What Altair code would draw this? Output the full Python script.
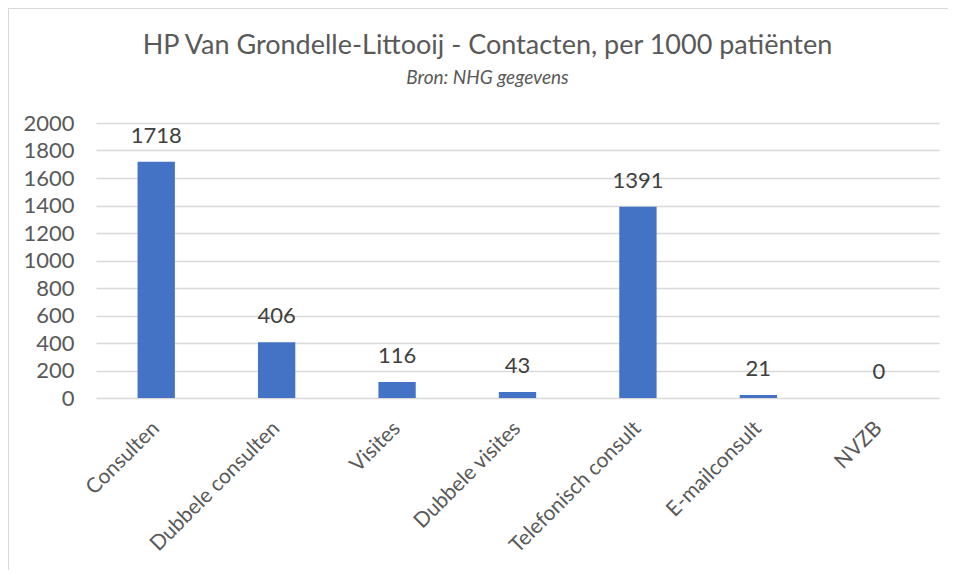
import altair as alt
import pandas as pd

categories = ["Consulten", "Dubbele consulten", "Visites", "Dubbele visites",
              "Telefonisch consult", "E-mailconsult", "NVZB"]
values = [1718, 406, 116, 43, 1391, 21, 0]
y_ticks = [0, 200, 400, 600, 800, 1000, 1200, 1400, 1600, 1800, 2000]

title_text = "HP Van Grondelle-Littooij - Contacten, per 1000 patiënten"
subtitle_text = "Bron: NHG gegevens"

df = pd.DataFrame({"cat": categories, "val": values})
FONT = "Lato"

x_enc = alt.X("cat:N", sort=categories, title=None,
              scale=alt.Scale(paddingInner=0.69, paddingOuter=0.345),
              axis=alt.Axis(labelAngle=-45, labelAlign="right", labelBaseline="middle",
                            labelFontSize=21, labelColor="#595959", labelFont=FONT,
                            ticks=False, domain=False, labelPadding=27, grid=False,
                            labelOverlap=False))
y_enc = alt.Y("val:Q", title=None,
              scale=alt.Scale(domain=[0, 2000], nice=False),
              axis=alt.Axis(values=y_ticks, format="d", labelFontSize=22, labelColor="#595959",
                            labelFont=FONT, ticks=False, domain=False, labelPadding=22,
                            labelOverlap=False, gridColor="#d9d9d9", gridWidth=1.3))

base = alt.Chart(df).encode(x=x_enc, y=y_enc)
bars = base.mark_bar(color="#4472c4")
labels = base.mark_text(fontSize=22, color="#404040", font=FONT,
                        baseline="alphabetic", dy=-19).encode(text="val:Q")

border = alt.Chart(df).mark_rect(fill=None, stroke="#d9d9d9", strokeWidth=1.5).encode(
    x=alt.value(-88), x2=alt.value(854), y=alt.value(-115), y2=alt.value(453))

chart = alt.layer(border, bars, labels).properties(
    width=843, height=275,
    autosize=alt.AutoSizeParams(type="none"),
    padding={"left": 88, "top": 115, "right": 9, "bottom": 172},
    title=alt.TitleParams(text=title_text, subtitle=subtitle_text, anchor="middle",
                          frame="group",
                          font=FONT, fontSize=27, fontWeight="normal", color="#595959",
                          subtitleFont=FONT, subtitleFontSize=19, subtitleFontStyle="italic",
                          subtitleColor="#595959", subtitlePadding=9, offset=-82, dx=-30),
).configure_view(stroke=None)

chart.save("out.html", embed_options={"renderer": "svg", "actions": False})
